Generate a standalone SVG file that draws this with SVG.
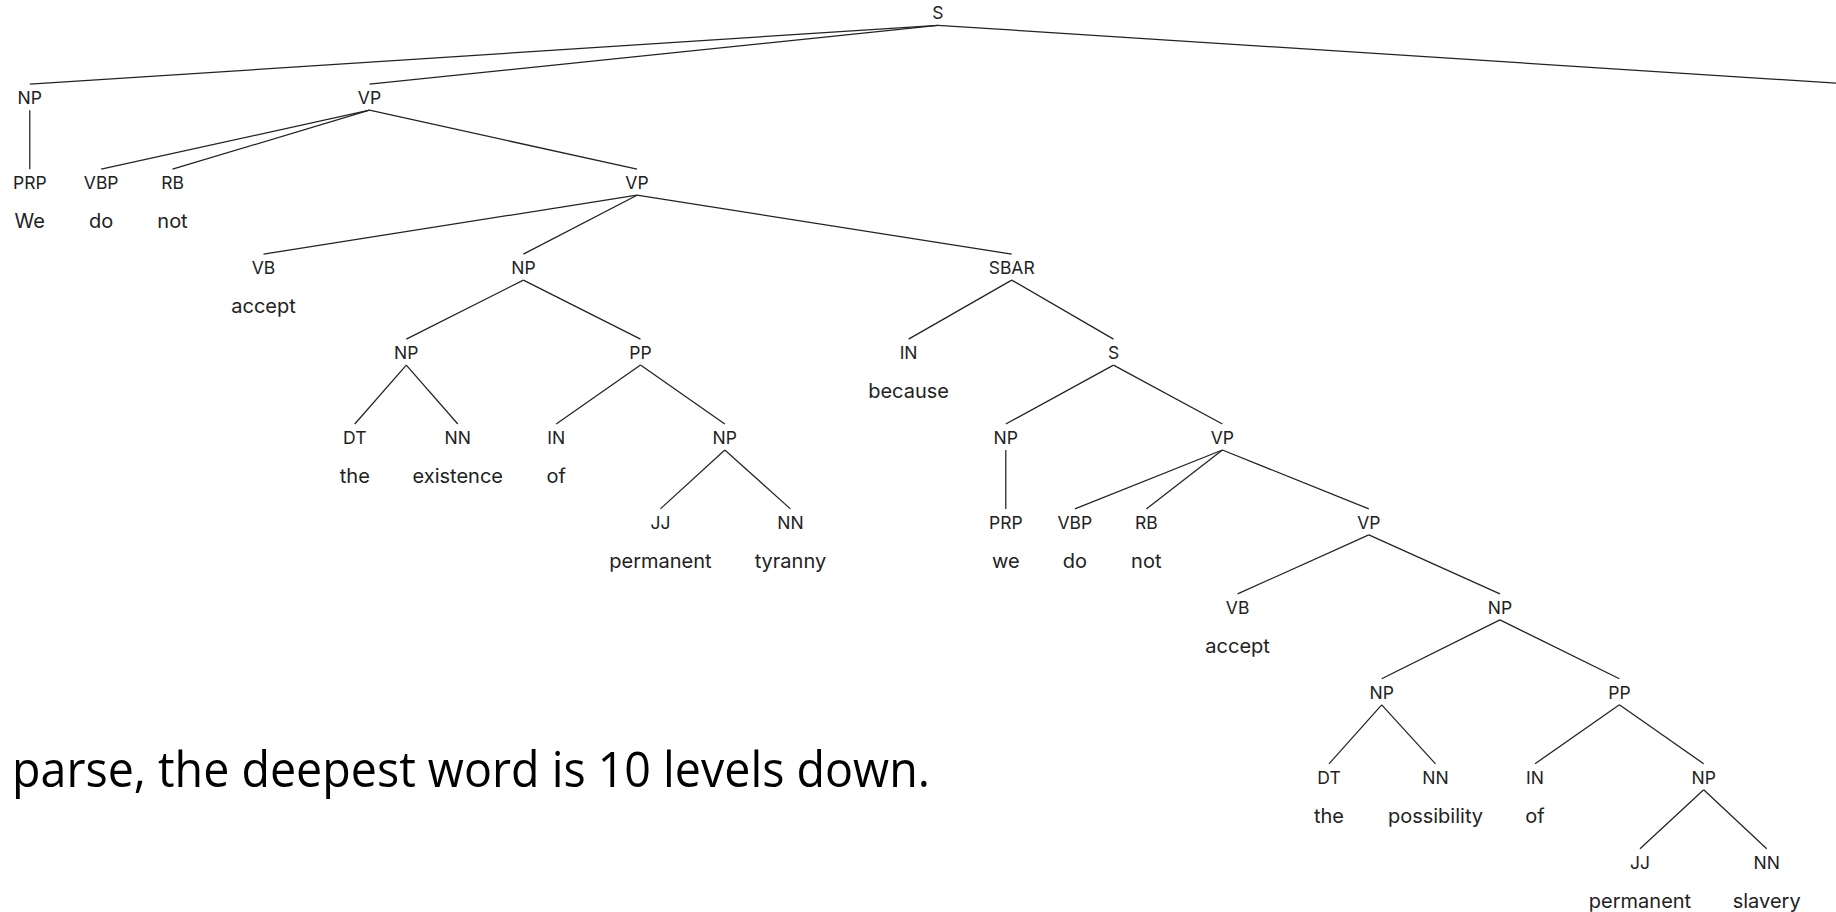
<svg xmlns="http://www.w3.org/2000/svg" width="1836" height="912" viewBox="0 0 1836 912">
<style>
.lbl{font-family:Inter,"Noto Sans",sans-serif;font-size:17.5px;fill:#222;text-anchor:middle}
.wrd{font-family:Inter,"Noto Sans",sans-serif;font-size:20px;fill:#222;text-anchor:middle}
.edges line{stroke:#222;stroke-width:1.25;fill:none}
.note{font-family:"Open Sans","Noto Sans",sans-serif;font-size:50px;fill:#000}
</style>
<rect width="1836" height="912" fill="#fff"/>
<g class="edges" id="connectors">
<line x1="937.9" y1="25.3" x2="29.8" y2="84.2"/>
<line x1="937.9" y1="25.3" x2="369.5" y2="84.2"/>
<line x1="937.9" y1="25.3" x2="1852" y2="84.2"/>
<line x1="29.8" y1="110.2" x2="29.8" y2="169.2"/>
<line x1="369.5" y1="110.2" x2="101.2" y2="169.2"/>
<line x1="369.5" y1="110.2" x2="172.5" y2="169.2"/>
<line x1="369.5" y1="110.2" x2="637" y2="169.2"/>
<line x1="637" y1="195.2" x2="263.5" y2="254.1"/>
<line x1="637" y1="195.2" x2="523.4" y2="254.1"/>
<line x1="637" y1="195.2" x2="1011.7" y2="254.1"/>
<line x1="523.4" y1="280.1" x2="406.3" y2="339.1"/>
<line x1="523.4" y1="280.1" x2="640.5" y2="339.1"/>
<line x1="1011.7" y1="280.1" x2="908.6" y2="339.1"/>
<line x1="1011.7" y1="280.1" x2="1113.5" y2="339.1"/>
<line x1="406.3" y1="365.1" x2="354.8" y2="424"/>
<line x1="406.3" y1="365.1" x2="457.8" y2="424"/>
<line x1="640.5" y1="365.1" x2="556.2" y2="424"/>
<line x1="640.5" y1="365.1" x2="724.8" y2="424"/>
<line x1="1113.5" y1="365.1" x2="1005.8" y2="424"/>
<line x1="1113.5" y1="365.1" x2="1222.4" y2="424"/>
<line x1="724.8" y1="450" x2="660.4" y2="508.9"/>
<line x1="724.8" y1="450" x2="790.4" y2="508.9"/>
<line x1="1005.8" y1="450" x2="1005.8" y2="508.9"/>
<line x1="1222.4" y1="450" x2="1074.9" y2="508.9"/>
<line x1="1222.4" y1="450" x2="1146.3" y2="508.9"/>
<line x1="1222.4" y1="450" x2="1368.8" y2="508.9"/>
<line x1="1368.8" y1="534.9" x2="1237.6" y2="593.9"/>
<line x1="1368.8" y1="534.9" x2="1499.9" y2="593.9"/>
<line x1="1499.9" y1="619.9" x2="1381.7" y2="678.8"/>
<line x1="1499.9" y1="619.9" x2="1619.4" y2="678.8"/>
<line x1="1381.7" y1="704.8" x2="1329" y2="763.8"/>
<line x1="1381.7" y1="704.8" x2="1435.5" y2="763.8"/>
<line x1="1619.4" y1="704.8" x2="1535" y2="763.8"/>
<line x1="1619.4" y1="704.8" x2="1703.7" y2="763.8"/>
<line x1="1703.7" y1="789.8" x2="1640" y2="848.7"/>
<line x1="1703.7" y1="789.8" x2="1766.7" y2="848.7"/>
</g>
<g id="n0"><text class="lbl" x="937.9" y="19.3">S</text></g>
<g id="n1"><text class="lbl" x="29.8" y="104.2">NP</text></g>
<g id="n2"><text class="lbl" x="369.5" y="104.2">VP</text></g>
<g id="n3"><text class="lbl" x="29.8" y="189.2">PRP</text><text class="wrd" x="29.8" y="228.4">We</text></g>
<g id="n4"><text class="lbl" x="101.2" y="189.2">VBP</text><text class="wrd" x="101.2" y="228.4">do</text></g>
<g id="n5"><text class="lbl" x="172.5" y="189.2">RB</text><text class="wrd" x="172.5" y="228.4">not</text></g>
<g id="n6"><text class="lbl" x="637" y="189.2">VP</text></g>
<g id="n7"><text class="lbl" x="263.5" y="274.1">VB</text><text class="wrd" x="263.5" y="313.3">accept</text></g>
<g id="n8"><text class="lbl" x="523.4" y="274.1">NP</text></g>
<g id="n9"><text class="lbl" x="1011.7" y="274.1">SBAR</text></g>
<g id="n10"><text class="lbl" x="406.3" y="359.1">NP</text></g>
<g id="n11"><text class="lbl" x="640.5" y="359.1">PP</text></g>
<g id="n12"><text class="lbl" x="908.6" y="359.1">IN</text><text class="wrd" x="908.6" y="398.3">because</text></g>
<g id="n13"><text class="lbl" x="1113.5" y="359.1">S</text></g>
<g id="n14"><text class="lbl" x="354.8" y="444">DT</text><text class="wrd" x="354.8" y="483.2">the</text></g>
<g id="n15"><text class="lbl" x="457.8" y="444">NN</text><text class="wrd" x="457.8" y="483.2">existence</text></g>
<g id="n16"><text class="lbl" x="556.2" y="444">IN</text><text class="wrd" x="556.2" y="483.2">of</text></g>
<g id="n17"><text class="lbl" x="724.8" y="444">NP</text></g>
<g id="n18"><text class="lbl" x="1005.8" y="444">NP</text></g>
<g id="n19"><text class="lbl" x="1222.4" y="444">VP</text></g>
<g id="n20"><text class="lbl" x="660.4" y="528.9">JJ</text><text class="wrd" x="660.4" y="568.1">permanent</text></g>
<g id="n21"><text class="lbl" x="790.4" y="528.9">NN</text><text class="wrd" x="790.4" y="568.1">tyranny</text></g>
<g id="n22"><text class="lbl" x="1005.8" y="528.9">PRP</text><text class="wrd" x="1005.8" y="568.1">we</text></g>
<g id="n23"><text class="lbl" x="1074.9" y="528.9">VBP</text><text class="wrd" x="1074.9" y="568.1">do</text></g>
<g id="n24"><text class="lbl" x="1146.3" y="528.9">RB</text><text class="wrd" x="1146.3" y="568.1">not</text></g>
<g id="n25"><text class="lbl" x="1368.8" y="528.9">VP</text></g>
<g id="n26"><text class="lbl" x="1237.6" y="613.9">VB</text><text class="wrd" x="1237.6" y="653.1">accept</text></g>
<g id="n27"><text class="lbl" x="1499.9" y="613.9">NP</text></g>
<g id="n28"><text class="lbl" x="1381.7" y="698.8">NP</text></g>
<g id="n29"><text class="lbl" x="1619.4" y="698.8">PP</text></g>
<g id="n30"><text class="lbl" x="1329" y="783.8">DT</text><text class="wrd" x="1329" y="823">the</text></g>
<g id="n31"><text class="lbl" x="1435.5" y="783.8">NN</text><text class="wrd" x="1435.5" y="823">possibility</text></g>
<g id="n32"><text class="lbl" x="1535" y="783.8">IN</text><text class="wrd" x="1535" y="823">of</text></g>
<g id="n33"><text class="lbl" x="1703.7" y="783.8">NP</text></g>
<g id="n34"><text class="lbl" x="1640" y="868.7">JJ</text><text class="wrd" x="1640" y="907.9">permanent</text></g>
<g id="n35"><text class="lbl" x="1766.7" y="868.7">NN</text><text class="wrd" x="1766.7" y="907.9">slavery</text></g>
<text class="note" x="12" y="787" textLength="918" lengthAdjust="spacingAndGlyphs">parse, the deepest word is 10 levels down.</text>
</svg>
